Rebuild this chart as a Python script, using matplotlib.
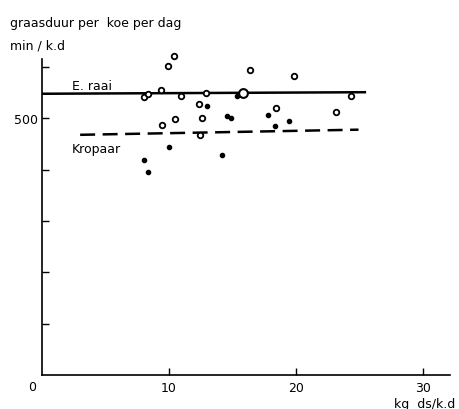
import matplotlib
matplotlib.use("Agg")
from matplotlib import pyplot as plt

# open circles (E. raai)
x_open = [8.0, 8.35, 9.4, 9.9, 10.4, 10.9, 12.9, 12.35, 10.5, 12.6, 9.45, 12.45, 16.4, 19.8, 18.4, 23.1, 24.3]
y_open = [542, 548, 556, 602, 622, 544, 550, 528, 499, 501, 487, 468, 595, 583, 520, 513, 544]
x_big = [15.85]
y_big = [550]

# filled dots (Kropaar)
x_dot = [8.0, 8.35, 10.0, 13.0, 14.55, 14.9, 15.35, 14.2, 17.8, 18.35, 19.4]
y_dot = [419, 396, 444, 524, 505, 501, 544, 429, 507, 485, 495]

# fitted lines
x_raai = [0, 25.4]
y_raai = [548, 551]
x_krop = [3.0, 24.9]
y_krop = [468, 478]

plt.rcParams['font.family'] = ['DejaVu Sans']
fig = plt.figure(figsize=(4.6, 4.1), dpi=100)
ax = fig.add_axes([0.0913, 0.083, 0.887, 0.771])

ax.plot(x_raai, y_raai, color="black", lw=1.8)
ax.plot(x_krop, y_krop, color="black", lw=1.8, dashes=(6, 3))
ax.scatter(x_open, y_open, s=16, facecolors="white", edgecolors="black", linewidths=1.3, zorder=3, clip_on=False)
ax.scatter(x_big, y_big, s=40, facecolors="white", edgecolors="black", linewidths=1.5, zorder=3)
ax.scatter(x_dot, y_dot, s=9, color="black", zorder=3)

ax.set_xlim(0, 32.1)
ax.set_ylim(0, 616)
ax.spines["top"].set_visible(False)
ax.spines["right"].set_visible(False)
ax.spines["left"].set_linewidth(1.2)
ax.spines["bottom"].set_linewidth(1.2)

ax.set_xticks([10, 20, 30])
ax.set_xticklabels(["10", "20", "30"])
ax.set_yticks([100, 200, 300, 400, 500, 600])
ax.set_yticklabels(["", "", "", "", "500", ""])
ax.tick_params(direction="in", length=5, width=1, labelsize=9)
ax.tick_params(axis="x", pad=4)
ax.tick_params(axis="y", pad=3)

ax.text(-0.75, -0.035, "0", transform=ax.get_xaxis_transform(), fontsize=9, ha="center", va="center")
ax.text(2.35, 552, "E. raai", fontsize=9, va="bottom")
ax.text(2.35, 442, "Kropaar", fontsize=9, va="center")

fig.text(0.022, 0.935, "graasduur per  koe per dag", fontsize=9)
fig.text(0.022, 0.88, "min / k.d", fontsize=9)
fig.text(0.99, 0.006, "kg  ds/k.d", fontsize=9, ha="right")

plt.savefig("out.png")
